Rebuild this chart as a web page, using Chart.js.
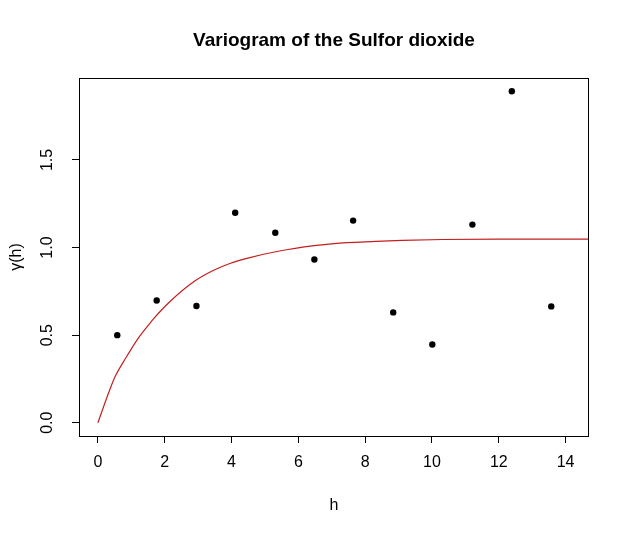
<!DOCTYPE html>
<html>
<head>
<meta charset="utf-8">
<title>Variogram of the Sulfor dioxide</title>
<script src="https://cdn.jsdelivr.net/npm/chart.js@4/dist/chart.umd.min.js"></script>
<style>
    body { margin: 0; background: #fff; }
    #chartBox { width: 630px; height: 534px; }
</style>
</head>
<body>
<div id="chartBox"><canvas id="variogramChart" width="630" height="534"></canvas></div>
<script>
// empirical variogram (lag distance h, semivariance)
var lagDistance = [0.58, 1.76, 2.95, 4.11, 5.31, 6.48, 7.64, 8.84, 10.01, 11.21, 12.39, 13.57];
var semivariance = [0.500, 0.698, 0.666, 1.199, 1.085, 0.932, 1.154, 0.630, 0.447, 1.131, 1.892, 0.664];

// fitted model line
var modelH = [0, 0.37, 0.52, 0.82, 1.17, 1.41, 1.66, 2.16, 2.91, 3.45, 3.95, 4.55, 5.40, 6.47, 7.07, 8.32, 9.11, 10.31, 12.0, 14.7];
var modelGamma = [0, 0.195, 0.265, 0.365, 0.472, 0.533, 0.592, 0.692, 0.810, 0.869, 0.909, 0.943, 0.979, 1.011, 1.023, 1.035, 1.041, 1.046, 1.048, 1.048];

var xTicks = [0, 2, 4, 6, 8, 10, 12, 14];
var yTicks = [0, 0.5, 1.0, 1.5];

var chartTitle = 'Variogram of the Sulfor dioxide';
var fontName = '"Liberation Sans", Arial, sans-serif';

function toXY(xs, ys) {
    var pts = [];
    xs.forEach(function (x, i) {
        pts.push({ x: x, y: ys[i] });
    });
    return pts;
}

// box around the plot region and the main title centred over it
var boxAndTitle = {
    id: 'boxAndTitle',
    afterDraw: function (chart) {
        var ctx = chart.ctx;
        var a = chart.chartArea;
        ctx.save();
        ctx.strokeStyle = '#000';
        ctx.lineWidth = 1;
        ctx.strokeRect(Math.round(a.left) + 0.5, Math.round(a.top) + 0.5,
            Math.round(a.right - a.left) - 1, Math.round(a.bottom - a.top));
        ctx.fillStyle = '#000';
        ctx.font = 'bold 19px ' + fontName;
        ctx.textAlign = 'center';
        ctx.textBaseline = 'middle';
        ctx.fillText(chartTitle, (a.left + a.right) / 2, 41);
        ctx.restore();
    }
};

new Chart(document.getElementById('variogramChart'), {
    type: 'scatter',
    data: {
        datasets: [{
            label: 'empirical',
            data: toXY(lagDistance, semivariance),
            backgroundColor: '#000',
            borderColor: '#000',
            borderWidth: 0,
            pointRadius: 3.2,
            pointHoverRadius: 3.2
        }, {
            label: 'model',
            type: 'line',
            data: toXY(modelH, modelGamma),
            borderColor: '#c41e1e',
            borderWidth: 1.2,
            pointRadius: 0,
            fill: false,
            cubicInterpolationMode: 'monotone'
        }]
    },
    options: {
        responsive: false,
        animation: false,
        events: [],
        layout: {
            padding: { top: 78, right: 41, bottom: 0, left: 0 }
        },
        plugins: {
            legend: { display: false },
            title: { display: false },
            tooltip: { enabled: false }
        },
        scales: {
            x: {
                type: 'linear',
                min: -0.565,
                max: 14.70,
                afterBuildTicks: function (scale) {
                    scale.ticks = xTicks.map(function (v) { return { value: v }; });
                },
                afterFit: function (scale) { scale.height = 98; },
                border: { display: false },
                grid: {
                    display: true,
                    drawOnChartArea: false,
                    drawTicks: true,
                    tickLength: 7,
                    color: '#000'
                },
                ticks: {
                    color: '#000',
                    padding: 10,
                    maxRotation: 0,
                    autoSkip: false,
                    font: { family: fontName, size: 16 }
                },
                title: {
                    display: true,
                    text: 'h',
                    color: '#000',
                    padding: { top: 0, bottom: 19 },
                    font: { family: fontName, size: 16 }
                }
            },
            y: {
                type: 'linear',
                min: -0.0757,
                max: 1.968,
                afterBuildTicks: function (scale) {
                    scale.ticks = yTicks.map(function (v) { return { value: v }; });
                },
                afterFit: function (scale) { scale.width = 79; },
                border: { display: false },
                grid: {
                    display: true,
                    drawOnChartArea: false,
                    drawTicks: true,
                    tickLength: 7,
                    color: '#000'
                },
                ticks: {
                    color: '#000',
                    padding: 13,
                    minRotation: 90,
                    maxRotation: 90,
                    crossAlign: 'center',
                    autoSkip: false,
                    font: { family: fontName, size: 16 },
                    callback: function (value) { return value.toFixed(1); }
                },
                title: {
                    display: true,
                    text: 'γ(h)',
                    color: '#000',
                    padding: { top: 7, bottom: 0 },
                    font: { family: fontName, size: 16 }
                }
            }
        }
    },
    plugins: [boxAndTitle]
});
</script>
</body>
</html>
